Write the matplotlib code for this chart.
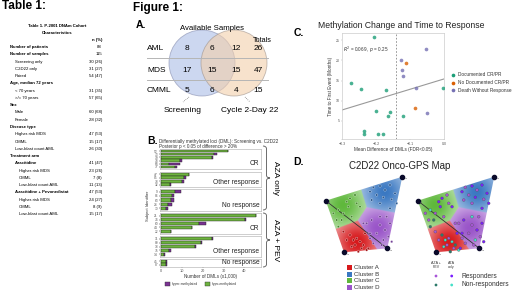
import numpy as np
import matplotlib
matplotlib.use('Agg')
import matplotlib.pyplot as plt
from matplotlib.patches import Circle, Polygon, Rectangle
from matplotlib.path import Path
from matplotlib.patches import PathPatch

plt.rcParams['font.family'] = ['Liberation Sans', 'DejaVu Sans']

W, H = 520, 291

# ---------------- Table 1 data ----------------
table_labels = ['Number of patients', 'Number of samples', 'Screening only', 'C2D22 only',
                'Paired', 'Age, median 72 years', '< 70 years', '>/= 70 years', 'Sex',
                'Male', 'Female', 'Disease type', 'Higher-risk MDS', 'CMML',
                'Low-blast count AML', 'Treatment arm', 'Azacitidine', 'Higher-risk MDS',
                'CMML', 'Low-blast count AML', 'Azacitidine + Pevonedistat',
                'Higher-risk MDS', 'CMML', 'Low-blast count AML']
table_values = ['88', '115', '30 (26)', '31 (27)', '54 (47)', '', '31 (35)', '57 (65)', '',
                '60 (68)', '28 (32)', '', '47 (53)', '15 (17)', '26 (30)', '', '41 (47)',
                '23 (26)', '7 (8)', '11 (13)', '47 (53)', '24 (27)', '8 (9)', '15 (17)']
table_level = [0, 0, 1, 1, 1, 0, 1, 1, 0, 1, 1, 0, 1, 1, 1, 0, 1, 2, 2, 2, 1, 2, 2, 2]
table_bold = [1, 1, 0, 0, 0, 1, 0, 0, 1, 0, 0, 1, 0, 0, 0, 1, 1, 0, 0, 0, 1, 0, 0, 0]

# ---------------- Venn data (A) ----------------
venn_rows = ['AML', 'MDS', 'CMML']
venn_screen = [8, 17, 5]
venn_both = [6, 15, 6]
venn_c2d22 = [12, 15, 4]
venn_totals = [26, 47, 15]

# ---------------- DML bars (B) ----------------
facet_names = ['CR', 'Other response', 'No response', 'CR', 'Other response', 'No response']
facet_ids = [['52', '73', '19', '38', '68', '77'],
             ['47', '85', '78', '32'],
             ['9', '86', '63', '24', '70'],
             ['21', '74', '60', '44', '22'],
             ['11', '80', '33', '75', '14'],
             ['45', '87']]
facet_hypo = [[32.0, 25.5, 24.5, 9.3, 3.6, 6.5],
              [13.3, 11.0, 10.0, 4.3],
              [6.7, 5.1, 5.0, 3.5, 2.4],
              [45.5, 40.3, 18.4, 14.8, 4.6],
              [24.6, 19.3, 16.2, 4.0, 1.4],
              [2.3, 2.4]]
facet_hyper = [[0.3, 1.6, 0.3, 0.8, 5.6, 1.2],
               [0.3, 1.0, 1.2, 0.3],
               [2.8, 1.3, 1.2, 1.9, 0.8],
               [0.3, 0.5, 3.2, 0.2, 0.3],
               [0.4, 0.2, 0.6, 0.8, 0.6],
               [0.7, 0.6]]
arm_names = ['AZA only', 'AZA + PEV']

# ---------------- Scatter (C) ----------------
mdiff_cr = [-0.207, -0.274, -0.244, -0.172, -0.199, -0.158, -0.164, -0.121, -0.002,
            -0.235, -0.235, -0.193, -0.178]
tte_cr = [25.7, 14.5, 12.9, 12.75, 7.5, 7.2, 6.3, 6.3, 13.2, 2.5, 1.8, 1.8, 1.8]
mdiff_nocr = [-0.112, -0.085]
tte_nocr = [19.25, 8.2]
mdiff_death = [-0.127, -0.124, -0.121, -0.053, -0.082, -0.051]
tte_death = [20.0, 17.6, 16.25, 22.8, 13.2, 6.9]
fit_x = [-0.3, 0.0]
fit_y = [7.7, 15.4]
cutoff = -0.14

# ---------------- Onco-GPS map (D), local map units ----------------
gps_vertices = [(15.7, 30.7), (92.3, 6.7), (77.3, 78.3), (34.0, 82.3)]
cluster_names = ['Cluster A', 'Cluster B', 'Cluster C', 'Cluster D']
cluster_centers = [(47, 72), (75, 22), (33, 35), (68, 58)]
gps_x = [60, 63.3, 70, 75, 80, 66.7, 73.3, 81.7, 85, 86.7, 70, 61.7, 80,
         23.3, 28.3, 33.3, 38.3, 40, 45, 46.7, 36.7, 26.7, 31.7, 41.7, 50,
         56.7, 61.7, 70, 75, 78.3, 73.3, 66.7, 60, 53.3, 80, 76.7, 70, 81.7, 71.7,
         40, 43.3, 46.7, 50, 53.3, 45, 41.7, 51.7, 56.7, 48.3, 60, 55, 63.3, 36.7,
         28.3, 33.3, 58.3]
gps_y = [21.7, 17.3, 16, 20, 15, 25, 27.3, 29.3, 23.3, 33.3, 33.3, 30, 38.3,
         43.3, 40, 43.3, 36.7, 28.3, 25, 33.3, 31.7, 50, 50, 46.7, 36.7,
         53.3, 50, 55, 60, 66.7, 70, 63.3, 63.3, 53.3, 53.3, 46.7, 46.7, 71.7, 75,
         65, 70, 68.3, 71.7, 75, 75, 76.7, 78.3, 80, 81.7, 68.3, 63.3, 73.3, 70,
         56.7, 61.7, 78.3]
# response group per sample: rp/ra responders (AZA+PEV / AZA only), np/na non-responders
gps_resp = ['ra', 'rp', 'ra', 'rp', 'ra', 'rp', 'ra', 'rp', 'ra', 'ra', 'rp', 'rp', 'ra',
            'rp', 'na', 'rp', 'ra', 'ra', 'rp', 'rp', 'ra', 'rp', 'np', 'rp', 'ra',
            'rp', 'ra', 'rp', 'ra', 'rp', 'na', 'rp', 'ra', 'rp', 'ra', 'rp', 'na', 'ra', 'rp',
            'np', 'na', 'rp', 'na', 'np', 'rp', 'na', 'rp', 'na', 'np', 'rp', 'ra', 'rp', 'rp',
            'np', 'rp', 'ra']
resp_labels = ['Responders', 'Non-responders']

# ---------------- colours ----------------
GREEN, PURPLE = '#6db33f', '#7b3294'
C_CR, C_NOCR, C_DEATH = '#1b9e77', '#d95f02', '#7570b3'
CL_COLS = ['#d7191c', '#3a78c2', '#5fb83c', '#9a55c9']
RESP_COLS = {'rp': '#a855d8', 'ra': '#7a1cff', 'np': '#2d7a6a', 'na': '#44e0c8'}

fig = plt.figure(figsize=(W / 100, H / 100), dpi=100)


def rect(x0, y0, x1, y1):
    return [x0 / W, 1 - y1 / H, (x1 - x0) / W, (y1 - y0) / H]


# overlay in pixel coordinates for text and decorations
ov = fig.add_axes([0, 0, 1, 1], zorder=5)
ov.set_xlim(0, W)
ov.set_ylim(H, 0)
ov.axis('off')
ov.patch.set_alpha(0)

# ---- Table 1 ----
ov.text(2, 6, 'Table 1:', fontsize=8.5, fontweight='bold', va='center', ha='left')
ov.text(57, 26, 'Table 1. P-2001 DNAm Cohort', fontsize=3.1, fontweight='bold', ha='center', va='center')
ov.text(57, 32.5, 'Characteristics', fontsize=3.1, fontweight='bold', ha='center', va='center')
ov.text(102, 40, 'n (%)', fontsize=3.1, fontweight='bold', ha='right', va='center')
indent = [10, 15, 19]
for i, (lab, val, lev, b) in enumerate(zip(table_labels, table_values, table_level, table_bold)):
    yy = 47 + i * 7.27
    ov.text(indent[lev], yy, lab, fontsize=3.1, fontweight='bold' if b else 'normal',
            ha='left', va='center')
    ov.text(102, yy, val, fontsize=3.1, ha='right', va='center')

# ---- Figure 1 header, panel letters ----
ov.text(133, 7.5, 'Figure 1:', fontsize=8.5, fontweight='bold', va='center', ha='left')
ov.text(136, 25, 'A.', fontsize=7.5, fontweight='bold', va='center')
ov.text(147, 141, 'B.', fontsize=7.5, fontweight='bold', va='center')
ov.text(294, 33, 'C.', fontsize=7.5, fontweight='bold', va='center')
ov.text(293, 162, 'D.', fontsize=7.5, fontweight='bold', va='center')

# ---- A: Venn ----
ov.add_patch(Circle((202, 63), 33, fc='#b7c6ea', ec='#8e95b5', lw=0.6, alpha=0.7))
ov.add_patch(Circle((234, 63), 33, fc='#f3cfab', ec='#9a8f88', lw=0.6, alpha=0.6))
for yl in (58, 80):
    ov.plot([147, 268], [yl, yl], color='#b5b5b5', lw=0.7)
ov.text(212, 29, 'Available Samples', fontsize=5.6, ha='center', va='center')
ov.text(262, 40, 'Totals', fontsize=5.2, ha='center', va='center')
for i, r in enumerate(venn_rows):
    yy = 49 + i * 21
    ov.text(147, yy, r, fontsize=6, ha='left', va='center')
    ov.text(187, yy, str(venn_screen[i]), fontsize=6, ha='center', va='center')
    ov.text(212, yy, str(venn_both[i]), fontsize=6, ha='center', va='center')
    ov.text(236, yy, str(venn_c2d22[i]), fontsize=6, ha='center', va='center')
    ov.text(258, yy, str(venn_totals[i]), fontsize=6, ha='center', va='center')
ov.plot([189, 183], [97, 102], color='#555555', lw=0.5, ls=':')
ov.plot([245, 250], [97, 102], color='#555555', lw=0.5, ls=':')
ov.text(183, 110, 'Screening', fontsize=6, ha='center', va='center')
ov.text(250, 110, 'Cycle 2-Day 22', fontsize=6, ha='center', va='center')

# ---- B: DML bars ----
ov.text(159, 141, 'Differentially methylated loci (DML): Screening vs. C2D22', fontsize=3.3,
        ha='left', va='center', color='#333333')
ov.text(159, 146.5, 'Posterior p < 0.05 of difference > 20%', fontsize=3.3,
        ha='left', va='center', color='#333333')
facet_px = [(149, 169), (172, 187), (189, 211), (213, 234), (236, 257), (259, 267)]
for k, (y0, y1) in enumerate(facet_px):
    ax = fig.add_axes(rect(160, y0, 261, y1))
    n = len(facet_ids[k])
    pos = np.arange(n)
    ax.barh(pos, facet_hypo[k], height=0.75, color=GREEN, edgecolor='#222222', lw=0.3)
    ax.barh(pos, facet_hyper[k], left=facet_hypo[k], height=0.75, color=PURPLE,
            edgecolor='#222222', lw=0.3)
    ax.set_ylim(n - 0.5 + 0.15, -0.5 - 0.15)
    ax.set_xlim(-0.5, 48)
    ax.set_yticks(pos)
    ax.set_yticklabels(facet_ids[k], fontsize=2.3, color='#555555')
    ax.tick_params(axis='y', length=1, width=0.3, pad=0.5)
    for s in ax.spines.values():
        s.set_color('#bbbbbb')
        s.set_linewidth(0.5)
    ax.text(0.985, 0.08, facet_names[k], transform=ax.transAxes, fontsize=4.8,
            ha='right', va='bottom', color='#222222')
    if k == len(facet_px) - 1:
        ax.set_xticks([0, 10, 20, 30, 40])
        ax.tick_params(axis='x', labelsize=2.8, length=1, width=0.3, pad=0.5,
                       labelcolor='#555555')
        ax.set_xlabel('Number of DMLs (x1,000)', fontsize=3.3, labelpad=0.5, color='#333333')
    else:
        ax.set_xticks([])
ov.text(148, 206, 'Subject Identifier', fontsize=3, rotation=90, ha='center', va='center',
        color='#333333')
ov.add_patch(Rectangle((165, 281.5), 4.5, 4.5, fc=PURPLE, ec='#333333', lw=0.3))
ov.text(172, 284, 'hyper-methylated', fontsize=2.4, va='center', color='#333333')
ov.add_patch(Rectangle((205, 281.5), 4.5, 4.5, fc=GREEN, ec='#333333', lw=0.3))
ov.text(212, 284, 'hypo-methylated', fontsize=2.4, va='center', color='#333333')


def brace(x, y0, y1, w):
    ym = (y0 + y1) / 2
    verts = [(x, y0), (x + w / 2, y0), (x + w / 2, y0 + 3),
             (x + w / 2, ym - 3), (x + w / 2, ym), (x + w, ym),
             (x + w / 2, ym), (x + w / 2, ym + 3),
             (x + w / 2, y1 - 3), (x + w / 2, y1), (x, y1)]
    codes = [Path.MOVETO, Path.CURVE3, Path.CURVE3, Path.LINETO, Path.CURVE3, Path.CURVE3,
             Path.CURVE3, Path.CURVE3, Path.LINETO, Path.CURVE3, Path.CURVE3]
    ov.add_patch(PathPatch(Path(verts, codes), fc='none', ec='#555555', lw=0.6))


brace(263, 146, 210, 7)
brace(263, 213, 267, 7)
ov.text(275, 178, arm_names[0], fontsize=6, rotation=270, ha='center', va='center')
ov.text(275, 240, arm_names[1], fontsize=6, rotation=270, ha='center', va='center')

# ---- C: scatter ----
ov.text(318, 25, 'Methylation Change and Time to Response', fontsize=6.2, ha='left',
        va='center', color='#222222')
axc = fig.add_axes(rect(342, 33, 444, 139))
axc.plot(fit_x, fit_y, color='#999999', lw=0.8)
axc.axvline(cutoff, color='#888888', ls=(0, (2, 2)), lw=0.6)
axc.scatter(mdiff_cr, tte_cr, s=7, color=C_CR, alpha=0.8, lw=0, zorder=3)
axc.scatter(mdiff_nocr, tte_nocr, s=7, color=C_NOCR, alpha=0.8, lw=0, zorder=3)
axc.scatter(mdiff_death, tte_death, s=7, color=C_DEATH, alpha=0.8, lw=0, zorder=3)
axc.set_xlim(-0.3, 0.0)
axc.set_ylim(0.5, 26.8)
axc.set_xticks([-0.3, -0.2, -0.1, 0.0])
axc.set_yticks([5, 10, 15, 20, 25])
axc.tick_params(labelsize=2.6, length=1, width=0.3, pad=0.8, labelcolor='#555555',
                color='#aaaaaa')
for s in axc.spines.values():
    s.set_color('#cccccc')
    s.set_linewidth(0.5)
axc.set_xlabel('Mean Difference of DMLs (FDR<0.05)', fontsize=3.3, labelpad=1.2, color='#333333')
axc.set_ylabel('Time to First Event (Months)', fontsize=3.3, labelpad=1.5, color='#333333')
axc.text(0.01, 0.84, '$R^2$ = 0.069 , $p$ = 0.25', transform=axc.transAxes, fontsize=3.3,
         color='#333333', va='center')
for i, (lab, c) in enumerate([('Documented CR/PR', C_CR), ('No Documented CR/PR', C_NOCR),
                              ('Death Without Response', C_DEATH)]):
    ov.scatter([453], [75 + i * 7.7], s=7, color=c, lw=0)
    ov.text(458, 75 + i * 7.7, lab, fontsize=3.4, va='center', color='#333333')

# ---- D: Onco-GPS maps ----
ov.text(400, 166, 'C2D22 Onco-GPS Map', fontsize=7, ha='center', va='center', color='#222222')
axd = fig.add_axes(rect(310, 170, 520, 262))
axd.set_xlim(0, 210)
axd.set_ylim(92, 0)
axd.axis('off')

gx, gy = np.meshgrid(np.linspace(0, 100, 301), np.linspace(0, 90, 271))
cc = np.array(cluster_centers, dtype=float)
dist = np.sqrt((gx[..., None] - cc[:, 0]) ** 2 + (gy[..., None] - cc[:, 1]) ** 2)
lab_grid = np.argmin(dist, axis=-1)
dmin = np.min(dist, axis=-1)
rgb = np.array([matplotlib.colors.to_rgb(c) for c in CL_COLS])
a = 0.3 + 0.7 * np.exp(-(dmin / 22.0) ** 2)
img = 1 - a[..., None] * (1 - rgb[lab_grid])

px = np.array(gps_x)
py = np.array(gps_y)
pcl = np.argmin(np.sqrt((px[:, None] - cc[:, 0]) ** 2 + (py[:, None] - cc[:, 1]) ** 2), axis=1)
dark = [np.array(matplotlib.colors.to_rgb(c)) * 0.75 for c in CL_COLS]

for off in (0, 92):
    verts = [(vx + off, vy) for vx, vy in gps_vertices]
    poly = Polygon(verts, closed=True, fc='none', ec='none')
    axd.add_patch(poly)
    im = axd.imshow(img, extent=(off, off + 100, 90, 0), origin='upper', interpolation='bilinear',
                    zorder=1)
    im.set_clip_path(poly)
    axd.plot([verts[0][0], verts[2][0]], [verts[0][1], verts[2][1]], color='#333333', lw=0.6,
             zorder=2)
    if off == 0:
        axd.scatter(px + off, py, s=3, c=[dark[k] for k in pcl], lw=0.2,
                    edgecolors='#ffffff', zorder=3)
    else:
        axd.scatter(px + off, py, s=4, c=[RESP_COLS[r] for r in gps_resp], lw=0.25,
                    edgecolors='#555555', zorder=3)
    vxs = [v[0] for v in verts]
    vys = [v[1] for v in verts]
    axd.scatter(vxs, vys, s=9, color='#0a0a2a', zorder=4)
    for j, (vx, vy) in enumerate(verts):
        axd.text(vx + 2.5, vy + 2.5, 'C%d' % (j + 1), fontsize=1.6, color='#666666', zorder=4)

for i, (name, c) in enumerate(zip(cluster_names, CL_COLS)):
    yy = 267.5 + i * 6.6
    ov.add_patch(Rectangle((346.5, yy - 2.5), 5, 5, fc=c, ec='none'))
    ov.text(354, yy, name, fontsize=4.4, va='center', color='#333333')

ov.text(436, 265, 'AZA +\nPEV', fontsize=2.6, ha='center', va='center', color='#333333',
        linespacing=1.1)
ov.text(451.7, 265, 'AZA\nonly', fontsize=2.6, ha='center', va='center', color='#333333',
        linespacing=1.1)
for i, (lab, keys) in enumerate(zip(resp_labels, [('rp', 'ra'), ('np', 'na')])):
    yy = 276 + i * 9
    ov.scatter([436, 451.7], [yy, yy], s=4, c=[RESP_COLS[keys[0]], RESP_COLS[keys[1]]], lw=0)
    ov.text(461.7, yy, lab, fontsize=4.8, va='center', color='#333333')

fig.savefig('out.png', dpi=100)
